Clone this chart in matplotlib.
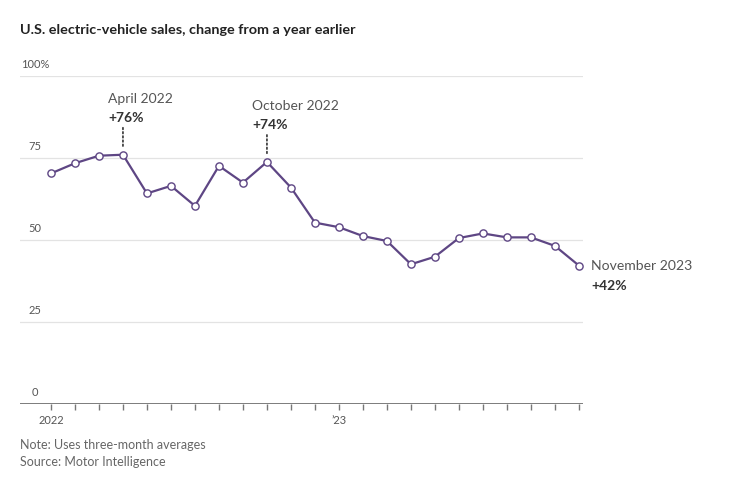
import matplotlib
matplotlib.use('Agg')
import matplotlib.pyplot as plt

# Monthly EV sales, % change from a year earlier (three-month averages)
months = ['Jan 2022', 'Feb 2022', 'Mar 2022', 'Apr 2022', 'May 2022', 'Jun 2022',
          'Jul 2022', 'Aug 2022', 'Sep 2022', 'Oct 2022', 'Nov 2022', 'Dec 2022',
          'Jan 2023', 'Feb 2023', 'Mar 2023', 'Apr 2023', 'May 2023', 'Jun 2023',
          'Jul 2023', 'Aug 2023', 'Sep 2023', 'Oct 2023', 'Nov 2023']
change = [70.3, 73.4, 75.7, 76.0, 64.2, 66.5, 60.4, 72.6, 67.5, 73.8, 66.0, 55.3,
          53.9, 51.2, 49.7, 42.6, 44.9, 50.6, 52.0, 50.8, 50.8, 48.2, 42.2]

y_ticks = [0, 25, 50, 75, 100]
y_labels = ['0', '25', '50', '75', '100%']
x_tick_pos = [0, 12]
x_tick_labels = ['2022', "\u201923"]

# callouts: (index, title, value text)
callouts = [(3, 'April 2022', '+76%'), (9, 'October 2022', '+74%')]
end_label = ('November 2023', '+42%')

plt.rcParams['font.family'] = ['Lato', 'DejaVu Sans']

W, H = 740, 480
fig = plt.figure(figsize=(W / 100, H / 100), dpi=100)
ax = fig.add_axes([20 / W, 1 - 404 / H, 563 / W, 328 / H])

line_col = '#5e4684'
x = list(range(len(change)))
ax.plot(x, change, color=line_col, lw=1.6, marker='o', ms=5.2,
        mfc='white', mec=line_col, mew=1.0, zorder=3, clip_on=False)

ax.set_xlim(-1.29, 22.17)
ax.set_ylim(0, 100)

# gridlines
for yt in y_ticks[1:]:
    ax.axhline(yt, color='#e3e3e3', lw=0.9, zorder=0)
ax.axhline(0, color='#666666', lw=1.2, zorder=2)

for s in ax.spines.values():
    s.set_visible(False)
ax.set_yticks([])
ax.set_xticks(x)
ax.set_xticklabels([])
ax.tick_params(axis='x', length=4, width=1, color='#777777', direction='out')

# y labels centred above gridlines
lab_x = -1.29 + 15 / 24
for yt, lab in zip(y_ticks, y_labels):
    ax.annotate(lab, xy=(lab_x, yt), xytext=(0, 11), textcoords='offset pixels',
                ha='center', va='center', fontsize=8, color='#555555')

for pos, lab in zip(x_tick_pos, x_tick_labels):
    ax.annotate(lab, xy=(pos, 0), xytext=(0, -17), textcoords='offset pixels',
                ha='center', va='center', fontsize=8, color='#555555')

for idx, t1, t2 in callouts:
    v = change[idx]
    ax.annotate('', xy=(idx, v), xytext=(0, 27), textcoords='offset pixels',
                arrowprops=dict(arrowstyle='-', linestyle=(0, (1, 1.5)), color='#333333',
                                lw=1.2, shrinkA=0, shrinkB=5))
    ax.annotate(t1, xy=(idx, v), xytext=(-15, 56), textcoords='offset pixels',
                ha='left', va='center', fontsize=10, color='#555555')
    ax.annotate(t2, xy=(idx, v), xytext=(-15, 37), textcoords='offset pixels',
                ha='left', va='center', fontsize=10, color='#333333', fontweight='bold')

last = len(change) - 1
ax.annotate(end_label[0], xy=(last, change[last]), xytext=(12, 0), textcoords='offset pixels',
            ha='left', va='center', fontsize=10.1, color='#555555', annotation_clip=False)
ax.annotate(end_label[1], xy=(last, change[last]), xytext=(12, -20), textcoords='offset pixels',
            ha='left', va='center', fontsize=10, color='#333333', fontweight='bold',
            annotation_clip=False)

fig.text(20 / W, 1 - 30 / H, 'U.S. electric-vehicle sales, change from a year earlier',
         ha='left', va='center', fontsize=10.4, fontweight='bold', color='#222222')
fig.text(20 / W, 1 - 445 / H, 'Note: Uses three-month averages',
         ha='left', va='center', fontsize=9, color='#666666')
fig.text(20 / W, 1 - 462 / H, 'Source: Motor Intelligence',
         ha='left', va='center', fontsize=9, color='#666666')

fig.savefig('out.png', dpi=100, facecolor='white')
